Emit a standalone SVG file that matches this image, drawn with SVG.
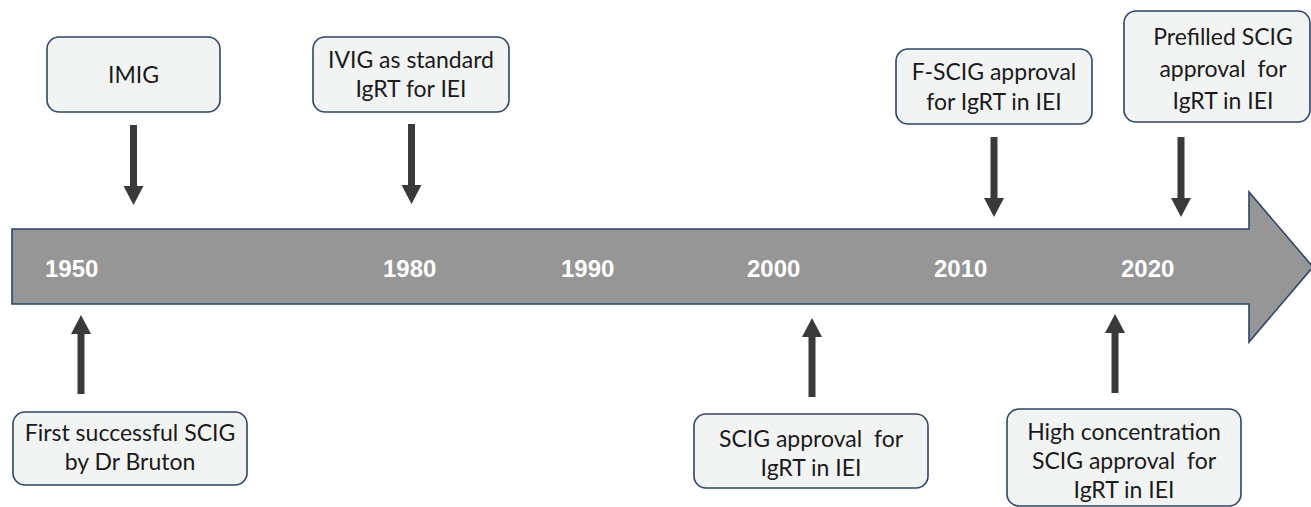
<svg xmlns="http://www.w3.org/2000/svg" width="1311" height="507" viewBox="0 0 1311 507">
  <style>
    .box { fill: #F2F4F4; stroke: #2F4468; stroke-width: 1.6; }
    .lbl { font-family: Lato, "Liberation Sans", sans-serif; font-size: 23px; fill: #1a1a1a; text-anchor: middle; }
    .yr { font-family: "Liberation Sans", Arial, sans-serif; font-size: 24px; font-weight: bold; fill: #ffffff; }
    .arr { fill: #3a3a3a; }
  </style>
  <rect width="1311" height="507" fill="#ffffff"/>

  <!-- timeline band -->
  <g id="timeline">
    <path d="M12,229 H1249 V192 L1313,267 L1249,342 V304 H12 Z" fill="#969696" stroke="#2F4468" stroke-width="1.6"/>
    <text class="yr" x="45" y="277">1950</text>
    <text class="yr" x="383" y="277">1980</text>
    <text class="yr" x="561" y="277">1990</text>
    <text class="yr" x="747" y="277">2000</text>
    <text class="yr" x="934" y="277">2010</text>
    <text class="yr" x="1121" y="277">2020</text>
  </g>

  <!-- connectors -->
  <g id="connectors" class="arr">
    <path d="M130,125 H137 V186 H143.5 L133.5,205 L123.5,186 H130 Z"/>
    <path d="M408,124 H415 V185 H421.5 L411.5,204 L401.5,185 H408 Z"/>
    <path d="M990.5,137 H997.5 V198 H1004 L994,217 L984,198 H990.5 Z"/>
    <path d="M1177.5,137 H1184.5 V198 H1191 L1181,217 L1171,198 H1177.5 Z"/>
    <path d="M77.5,394 H84.5 V334 H91 L81,315 L71,334 H77.5 Z"/>
    <path d="M808.5,397 H815.5 V337 H822 L812,318 L802,337 H808.5 Z"/>
    <path d="M1111.5,393 H1118.5 V333 H1125 L1115,314 L1105,333 H1111.5 Z"/>
  </g>

  <g id="imig">
    <rect class="box" x="47" y="37" width="173" height="75" rx="12"/>
    <text class="lbl" x="133.5" y="83">IMIG</text>
  </g>

  <g id="ivig">
    <rect class="box" x="313" y="37" width="196" height="75" rx="12"/>
    <text class="lbl" x="411" y="68">IVIG as standard</text>
    <text class="lbl" x="411" y="97">IgRT for IEI</text>
  </g>

  <g id="fscig">
    <rect class="box" x="896" y="49" width="196" height="75" rx="12"/>
    <text class="lbl" x="994" y="80">F-SCIG approval</text>
    <text class="lbl" x="994" y="110">for IgRT in IEI</text>
  </g>

  <g id="prefilled">
    <rect class="box" x="1124" y="11" width="186" height="111" rx="12"/>
    <text class="lbl" x="1223" y="45">Prefilled SCIG</text>
    <text class="lbl" x="1223" y="77" xml:space="preserve">approval  for</text>
    <text class="lbl" x="1223" y="109">IgRT in IEI</text>
  </g>

  <g id="bruton">
    <rect class="box" x="13" y="412" width="234" height="73" rx="12"/>
    <text class="lbl" x="130" y="441">First successful SCIG</text>
    <text class="lbl" x="130" y="470">by Dr Bruton</text>
  </g>

  <g id="scig">
    <rect class="box" x="694" y="414" width="234" height="74" rx="12"/>
    <text class="lbl" x="811" y="447" xml:space="preserve">SCIG approval  for</text>
    <text class="lbl" x="811" y="476">IgRT in IEI</text>
  </g>

  <g id="highconc">
    <rect class="box" x="1007" y="409" width="234" height="97" rx="12"/>
    <text class="lbl" x="1124" y="440">High concentration</text>
    <text class="lbl" x="1124" y="469" xml:space="preserve">SCIG approval  for</text>
    <text class="lbl" x="1124" y="498">IgRT in IEI</text>
  </g>
</svg>
